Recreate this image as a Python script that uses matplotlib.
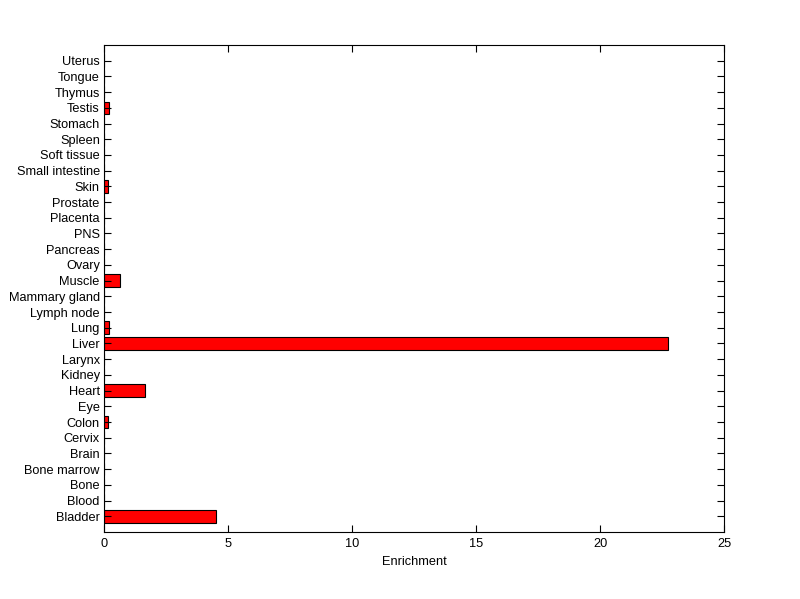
import numpy as np
import matplotlib
matplotlib.use('Agg')
import matplotlib.pyplot as plt

# Tissue categories, bottom to top
tissues = ['Bladder', 'Blood', 'Bone', 'Bone marrow', 'Brain', 'Cervix', 'Colon',
           'Eye', 'Heart', 'Kidney', 'Larynx', 'Liver', 'Lung', 'Lymph node',
           'Mammary gland', 'Muscle', 'Ovary', 'Pancreas', 'PNS', 'Placenta',
           'Prostate', 'Skin', 'Small intestine', 'Soft tissue', 'Spleen',
           'Stomach', 'Testis', 'Thymus', 'Tongue', 'Uterus']
enrichment = [4.52, 0, 0, 0, 0, 0, 0.17,
              0, 1.65, 0, 0, 22.74, 0.22, 0,
              0, 0.65, 0, 0, 0, 0,
              0, 0.17, 0, 0, 0,
              0, 0.22, 0, 0, 0]
xticks = [0, 5, 10, 15, 20, 25]

plt.rcParams['font.family'] = ['Liberation Sans', 'DejaVu Sans']

fig = plt.figure(figsize=(8, 5.99), dpi=100)
ax = fig.add_axes([0.13, 0.1119, 0.775, 0.8130])

pos = np.arange(1, len(tissues) + 1)
ax.barh(pos, enrichment, height=0.8, color='#ff0000', edgecolor='black', linewidth=0.8)

ax.set_xlim(0, 25)
ax.set_ylim(0, len(tissues) + 1)
ax.set_xticks(xticks)
ax.set_yticks(pos)
ax.set_yticklabels(tissues)
ax.tick_params(direction='in', length=5, width=0.8, labelsize=9.2,
               top=True, right=True, pad=3)
ax.tick_params(axis='x', pad=4)
for s in ax.spines.values():
    s.set_linewidth(0.8)
ax.set_xlabel('Enrichment', fontsize=9.2, labelpad=5)

fig.savefig('out.png', dpi=100)
